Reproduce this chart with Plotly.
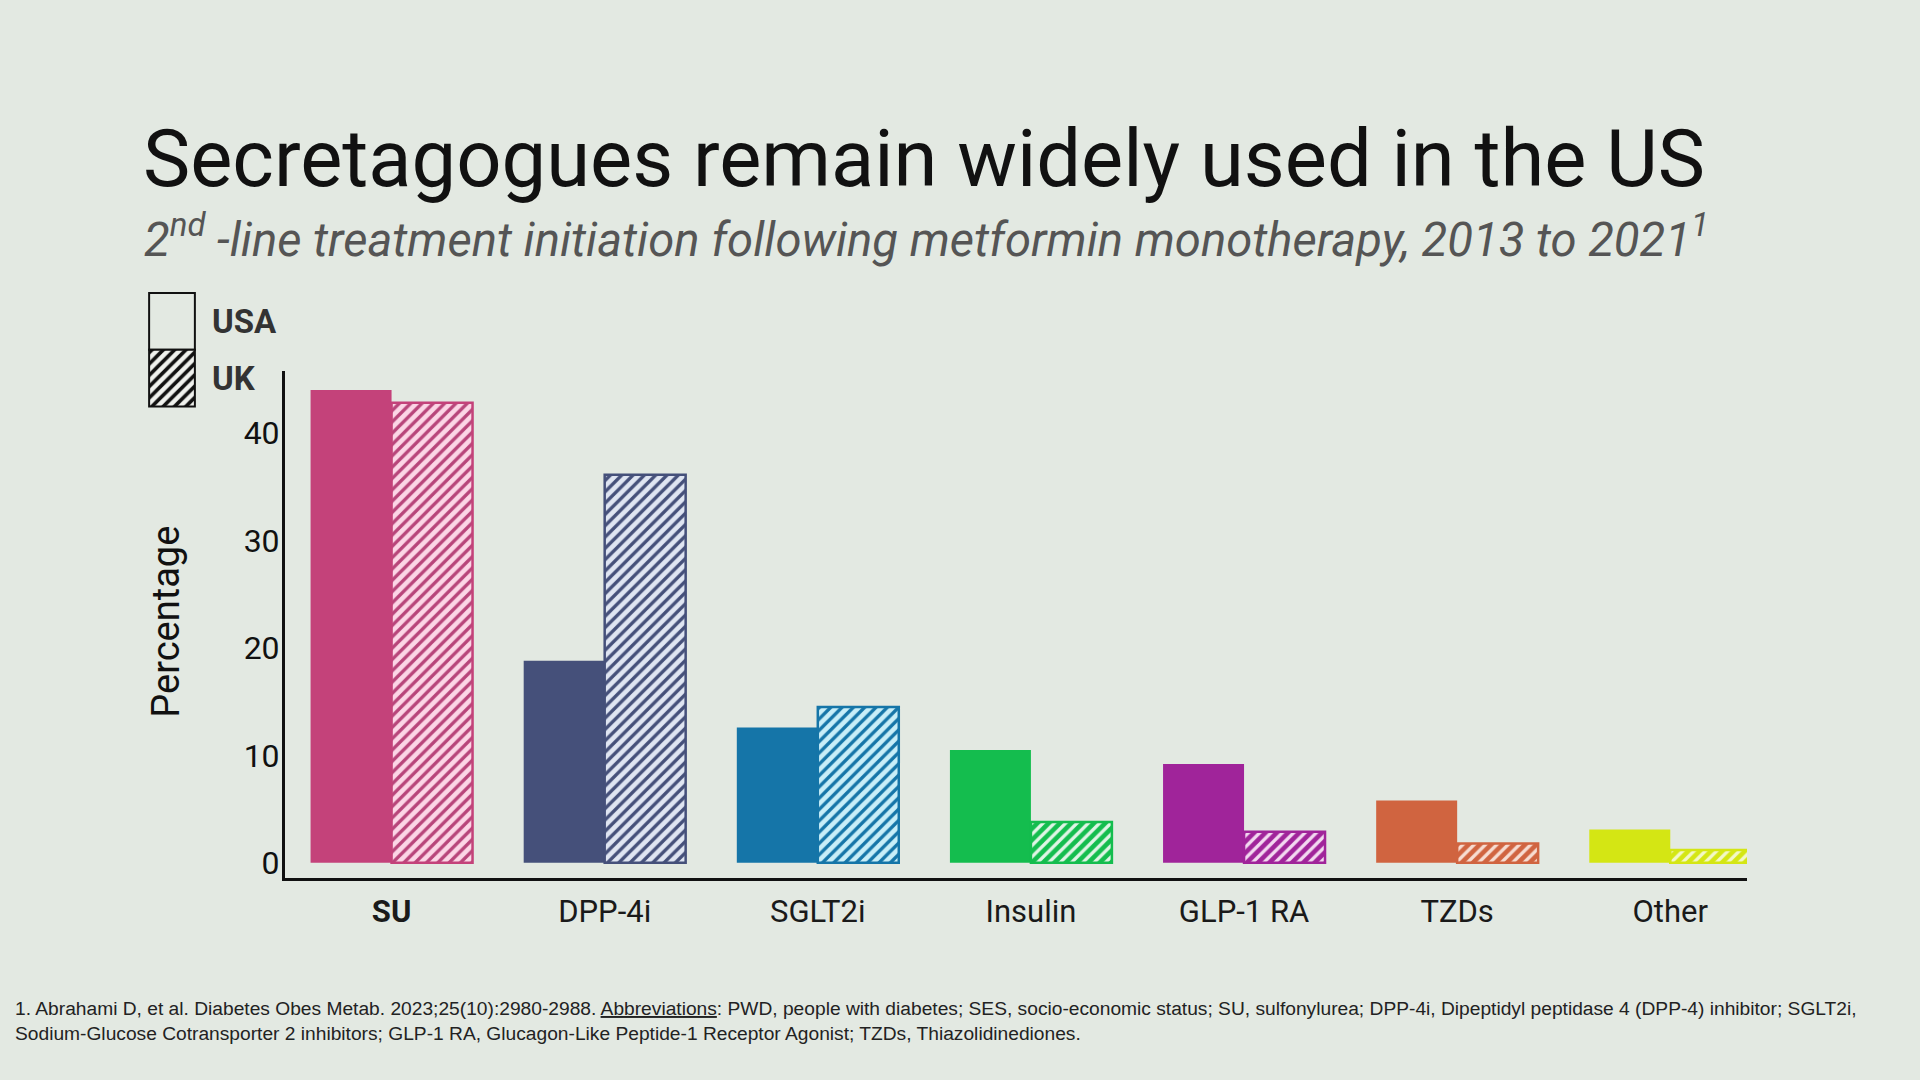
import plotly.graph_objects as go

W, H = 1920, 1080

categories = ["SU", "DPP-4i", "SGLT2i", "Insulin", "GLP-1 RA", "TZDs", "Other"]
tick_text = ["<b>SU</b>", "DPP-4i", "SGLT2i", "Insulin", "GLP-1 RA", "TZDs", "Other"]
usa = [44.0, 18.8, 12.6, 10.5, 9.2, 5.8, 3.1]
uk = [42.8, 36.1, 14.5, 3.8, 2.9, 1.8, 1.2]

colors = ["#c4427a", "#45507a", "#1575a8", "#14bd4e", "#a0249a", "#d06440", "#d4e614"]
uk_bg = ["#fcd6e6", "#dfe5f2", "#c8eef8", "#14bd4e", "#a0249a", "#d06440", "#d4e614"]
uk_fg = ["#b8457a", "#45507a", "#1575a8", "#e0f5e6", "#f3d9f1", "#f7ddd2", "#f3f8c8"]

bg = "#e3e9e2"
font = "Roboto, Inter, sans-serif"


def px_x(v):
    return v / W


def px_y(v):
    return 1 - v / H


fig = go.Figure()

fig.add_trace(go.Bar(
    x=categories, y=usa, name="USA", offsetgroup="usa",
    marker=dict(color=colors, line=dict(width=0)),
    showlegend=False, hoverinfo="skip"))

# UK: solid light fill, then the hatch drawn on top in the same slot
fig.add_trace(go.Bar(
    x=categories, y=uk, name="UK", offsetgroup="uk",
    marker=dict(color=uk_bg, line=dict(width=0)),
    showlegend=False, hoverinfo="skip"))
fig.add_trace(go.Bar(
    x=categories, y=uk, name="UK hatch", offsetgroup="uk",
    marker=dict(color=uk_fg, line=dict(color=colors, width=2.5),
                pattern=dict(shape="/", size=8, solidity=0.42, fillmode="replace")),
    showlegend=False, hoverinfo="skip"))

# legend boxes drawn on a tiny overlay axis (padded so outlines are not clipped)
fig.add_trace(go.Bar(
    x=[0], y=[1], base=[1], width=[1], offset=[-0.5], xaxis="x2", yaxis="y2",
    marker=dict(color="rgba(0,0,0,0)", line=dict(color="#111", width=2)),
    showlegend=False, hoverinfo="skip"))
fig.add_trace(go.Bar(
    x=[0], y=[1], base=[0], width=[1], offset=[-0.5], xaxis="x2", yaxis="y2",
    marker=dict(color="#f0f2ee", line=dict(color="#111", width=2),
                pattern=dict(shape="/", fgcolor="#111", bgcolor="#f0f2ee", fgopacity=1,
                             size=8, solidity=0.45, fillmode="replace")),
    showlegend=False, hoverinfo="skip"))

fig.update_layout(
    width=W, height=H,
    margin=dict(l=0, r=0, t=0, b=0),
    paper_bgcolor=bg, plot_bgcolor=bg,
    barmode="group", bargap=0.24, bargroupgap=0,
    font=dict(family=font, color="#111"),
    xaxis=dict(domain=[px_x(285), px_x(1747)], range=[-0.5, 6.36],
               tickvals=categories, ticktext=tick_text,
               tickfont=dict(size=31, color="#1a1a1a"),
               showline=True, linecolor="#111", linewidth=3,
               showgrid=False, zeroline=False, ticks="", ticklabelstandoff=4),
    yaxis=dict(domain=[px_y(881), px_y(372)], range=[-1.39, 45.8],
               tickvals=[0, 10, 20, 30, 40],
               tickfont=dict(size=32, color="#111"),
               showline=True, linecolor="#111", linewidth=3,
               showgrid=False, zeroline=False, ticks="", ticklabelstandoff=-4),
    xaxis2=dict(domain=[px_x(145), px_x(199)], range=[-0.59, 0.59],
                visible=False, anchor="y2", fixedrange=True),
    yaxis2=dict(domain=[px_y(412), px_y(290)], range=[-0.07, 2.07],
                visible=False, anchor="x2", fixedrange=True),
)

annotations = [
    dict(text="Secretagogues remain widely used in the US",
         x=px_x(141), y=px_y(159), xanchor="left", yanchor="middle",
         font=dict(size=79.5, color="#111")),
    dict(text="<i>2<sup>nd</sup> -line treatment initiation following metformin monotherapy, 2013 to 2021<sup>1</sup></i>",
         x=px_x(142), y=px_y(237), xanchor="left", yanchor="middle",
         font=dict(size=47.2, color="#555")),
    dict(text="<b>USA</b>", x=px_x(210), y=px_y(323), xanchor="left", yanchor="middle",
         font=dict(size=33, color="#333")),
    dict(text="<b>UK</b>", x=px_x(210), y=px_y(380), xanchor="left", yanchor="middle",
         font=dict(size=33, color="#333")),
    dict(text="Percentage", x=px_x(166), y=px_y(624), xanchor="center", yanchor="middle",
         textangle=-90, font=dict(size=38, color="#111")),
    dict(text="1. Abrahami D, et al. Diabetes Obes Metab. 2023;25(10):2980-2988. <u>Abbreviations</u>: PWD, people with diabetes; SES, socio-economic status; SU, sulfonylurea; DPP-4i, Dipeptidyl peptidase 4 (DPP-4) inhibitor; SGLT2i,<br>Sodium-Glucose Cotransporter 2 inhibitors; GLP-1 RA, Glucagon-Like Peptide-1 Receptor Agonist; TZDs, Thiazolidinediones.",
         x=px_x(13), y=px_y(1025), xanchor="left", yanchor="middle", align="left",
         font=dict(size=19.2, color="#222", family="'Liberation Sans', Arial, sans-serif")),
]
for a in annotations:
    a.update(xref="paper", yref="paper", showarrow=False)
fig.update_layout(annotations=annotations)

fig.write_html("out.html", config={"displayModeBar": False},
               post_script="document.body.style.margin='0';document.body.style.background='%s';" % bg)
